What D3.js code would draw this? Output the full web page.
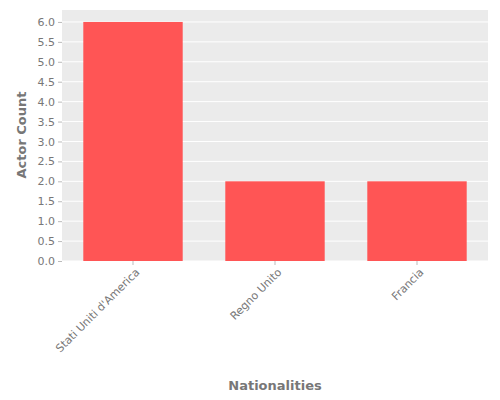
<!DOCTYPE html>
<html><head><meta charset="utf-8">
<script src="https://cdn.jsdelivr.net/npm/d3@7"></script>
<style>body{margin:0;background:#fff}text{font-family:"DejaVu Sans",sans-serif}</style>
</head><body>
<svg id="c" width="500" height="400"></svg>
<script>
const categories = ["Stati Uniti d'America", "Regno Unito", "Francia"];
const counts = [6, 2, 2];
const yTicks = [0,0.5,1,1.5,2,2.5,3,3.5,4,4.5,5,5.5,6];

const svg = d3.select("#c");
const m = {l:62, r:488, t:10, b:261};
const x = d3.scaleBand().domain(categories).range([m.l, m.r]).paddingInner(0.3).paddingOuter(0.15);
const y = d3.scaleLinear().domain([0, 6.3]).range([m.b, m.t]);

svg.append("rect").attr("x", m.l).attr("y", m.t).attr("width", m.r-m.l).attr("height", m.b-m.t).attr("fill", "#ebebeb");
svg.append("g").selectAll("line").data(yTicks).join("line")
  .attr("x1", m.l).attr("x2", m.r).attr("y1", d=>y(d)).attr("y2", d=>y(d))
  .attr("stroke", "#fff").attr("stroke-width", 1);

svg.append("g").selectAll("rect").data(counts).join("rect")
  .attr("x", (d,i)=>x(categories[i])).attr("width", x.bandwidth())
  .attr("y", d=>y(d)).attr("height", d=>m.b-y(d)).attr("fill", "#ff5555");

const ya = svg.append("g").attr("transform", `translate(${m.l},0)`)
  .call(d3.axisLeft(y).tickValues(yTicks).tickFormat(d3.format(".1f")).tickSize(4));
ya.select(".domain").remove();
ya.selectAll("line").attr("stroke", "#bbb");
ya.selectAll("text").attr("fill", "#777").style("font-size", "11px");

const xa = svg.append("g").attr("transform", `translate(0,${m.b})`)
  .call(d3.axisBottom(x).tickSize(4));
xa.select(".domain").remove();
xa.selectAll("line").attr("stroke", "#bbb");
xa.selectAll("text").attr("fill", "#777").style("font-size", "11px")
  .attr("text-anchor", "end").attr("dx", "-0.3em").attr("dy", "0.6em")
  .attr("transform", "rotate(-45)");

svg.append("text").attr("transform", "translate(26,135) rotate(-90)")
  .attr("text-anchor", "middle").attr("fill", "#777").style("font-size", "13px").style("font-weight", "bold").text("Actor Count");
svg.append("text").attr("x", 275).attr("y", 390)
  .attr("text-anchor", "middle").attr("fill", "#777").style("font-size", "13px").style("font-weight", "bold").text("Nationalities");
</script>
</body></html>
